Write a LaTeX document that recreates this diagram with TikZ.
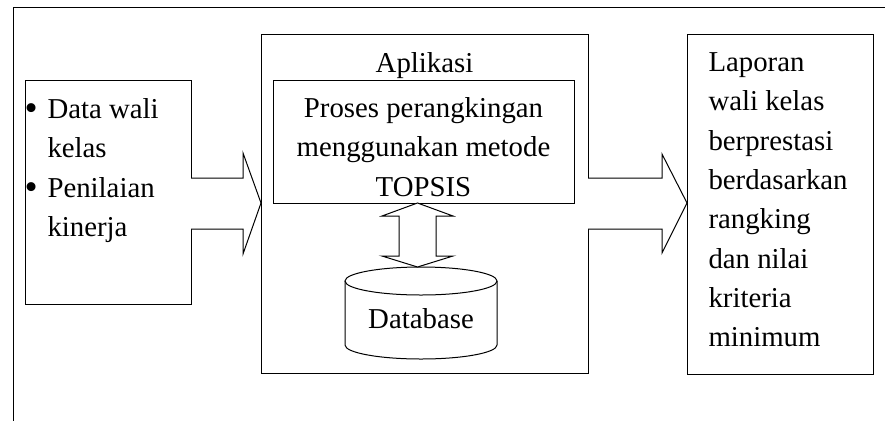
\documentclass[tikz,border=0pt]{standalone}
\usepackage{fontspec}
\setmainfont{Liberation Serif}
\usetikzlibrary{calc}
\newcommand{\firststrut}{\rule{0pt}{22pt}}
\newcommand{\itembullet}{\makebox[23pt][l]{\raisebox{-2pt}{\scalebox{1.3}{•}}}}
\newcommand{\bulletgap}{\hspace*{23pt}}
\begin{document}
\begin{tikzpicture}[x=1pt, y=-1pt, line width=1pt,
  frameline/.style={draw, line width=1.1pt},
  box/.style={draw, rectangle, inner sep=0pt, outer sep=0pt},
  txt/.style={inner sep=0pt, font=\fontsize{28.8}{39.3}\selectfont},
  blockarrow/.style={draw, fill=white, line join=miter}]
\useasboundingbox (0,0) rectangle (885,421);

% outer frame (top and left edges)
\coordinate (ftop) at (885,7.5);
\coordinate (fcorner) at (13.5,7.5);
\coordinate (fbot) at (13.5,421);
\draw[frameline] (ftop) -- (fcorner) -- (fbot);

% boxes
\node[box, minimum width=166pt, minimum height=224pt] (input) at (108,192) {};
\node[box, minimum width=327pt, minimum height=339pt] (app) at (424.5,203.5) {};
\node[box, minimum width=301pt, minimum height=123pt] (proc) at (423.5,141.5) {};
\node[box, minimum width=186pt, minimum height=340pt] (report) at (780,204) {};

% texts
\node[txt, anchor=north west, align=left] (inputtext) at (24,96)
  {\firststrut\itembullet Data wali\\ \bulletgap kelas\\ \itembullet Penilaian\\ \bulletgap kinerja};
\node[txt, anchor=base] (apptitle) at (424.5,72) {Aplikasi};
\node[txt, anchor=north, align=center] (proctext) at (423.5,95)
  {\firststrut Proses perangkingan\\menggunakan metode\\TOPSIS};
\node[txt, anchor=north west, align=left] (reporttext) at (708,49)
  {\firststrut Laporan\\wali kelas\\berprestasi\\berdasarkan\\rangking\\dan nilai\\kriteria\\minimum};

% database cylinder
\node[txt, anchor=base] (db) at (421,328) {Database};
\coordinate (dbtop) at (417.5,267);
\draw (345,281) -- (345,345) arc[start angle=180, end angle=0, x radius=76, y radius=14] -- (497,281);
\draw (421,281) ellipse [x radius=76, y radius=14];

% block arrows
\draw[blockarrow] (input.east |- 0,178) -- (243,178) -- (243,153) -- (app.west |- 0,203)
  -- (243,254) -- (243,229) -- (input.east |- 0,229);
\draw[blockarrow] (app.east |- 0,178) -- (662,178) -- (662,154) -- (report.west |- 0,203)
  -- (662,253) -- (662,229) -- (app.east |- 0,229);
\draw[blockarrow] (dbtop |- proc.south) -- (453,216) -- (436,216) -- (436,256) -- (453,256)
  -- (dbtop) -- (382,256) -- (399,256) -- (399,216) -- (382,216) -- cycle;
\end{tikzpicture}
\end{document}
